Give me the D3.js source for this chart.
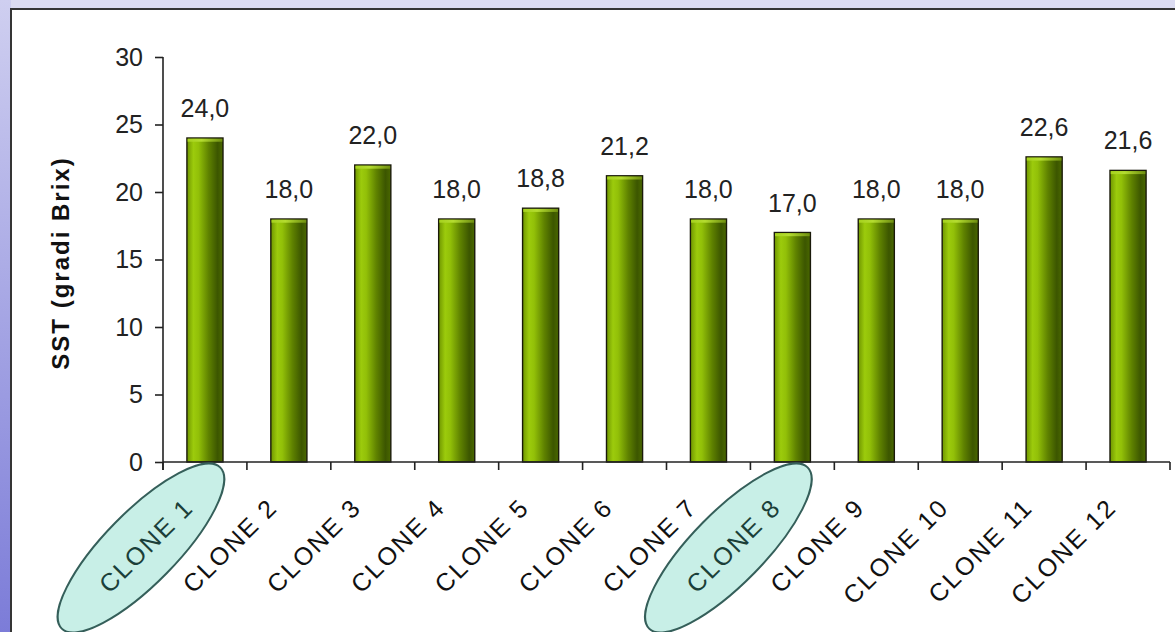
<!DOCTYPE html>
<html>
<head>
<meta charset="utf-8">
<script src="https://cdn.jsdelivr.net/npm/d3@7"></script>
<style>
  html, body { margin: 0; padding: 0; background: #dcdcf2; }
  svg { display: block; }
  text { font-family: Arial, "Liberation Sans", sans-serif; }
</style>
</head>
<body>
<svg id="chart" width="1175" height="632"></svg>
<script>
// Soluble solids (°Brix) per clone
const categories = ["CLONE 1", "CLONE 2", "CLONE 3", "CLONE 4", "CLONE 5", "CLONE 6",
                    "CLONE 7", "CLONE 8", "CLONE 9", "CLONE 10", "CLONE 11", "CLONE 12"];
const values = [24.0, 18.0, 22.0, 18.0, 18.8, 21.2, 18.0, 17.0, 18.0, 18.0, 22.6, 21.6];
const highlighted = ["CLONE 1", "CLONE 8"];
const yTicks = [0, 5, 10, 15, 20, 25, 30];
const yTitle = "SST (gradi Brix)";

const svg = d3.select("#chart");
const W = 1175, H = 632;
const defs = svg.append("defs");

// page frame: lavender strip on the left, white panel with dark border
const side = defs.append("linearGradient").attr("id", "side")
  .attr("x1", 0).attr("y1", 0).attr("x2", 0).attr("y2", 1);
side.append("stop").attr("offset", "0%").attr("stop-color", "#cfcff0");
side.append("stop").attr("offset", "100%").attr("stop-color", "#7c7cd8");
svg.append("rect").attr("x", 0).attr("y", 0).attr("width", W).attr("height", H).attr("fill", "#dcdcf2");
svg.append("rect").attr("x", 0).attr("y", 0).attr("width", 11).attr("height", H).attr("fill", "url(#side)");
svg.append("rect").attr("x", 11).attr("y", 9).attr("width", W + 20).attr("height", H + 20)
  .attr("fill", "#ffffff").attr("stroke", "#353535").attr("stroke-width", 2);

// bar shading
const barGrad = defs.append("linearGradient").attr("id", "barGrad")
  .attr("x1", 0).attr("y1", 0).attr("x2", 1).attr("y2", 0);
[["0%", "#6f9600"], ["18%", "#9ccb0c"], ["32%", "#92c008"], ["60%", "#5f8200"],
 ["85%", "#3c5600"], ["100%", "#4a6800"]].forEach(([o, c]) =>
  barGrad.append("stop").attr("offset", o).attr("stop-color", c));
const capGrad = defs.append("linearGradient").attr("id", "capGrad")
  .attr("x1", 0).attr("y1", 0).attr("x2", 1).attr("y2", 0);
[["0%", "#a6d21e"], ["40%", "#b4dc30"], ["100%", "#6f8f10"]].forEach(([o, c]) =>
  capGrad.append("stop").attr("offset", o).attr("stop-color", c));

const m = { left: 163, right: 1170, top: 57, bottom: 462 };

const x = d3.scaleBand().domain(categories).range([m.left, m.right]).paddingInner(0.57).paddingOuter(0.285);
const xb = d3.scaleBand().domain(categories).range([m.left, m.right]);
const y = d3.scaleLinear().domain([0, 30]).range([m.bottom, m.top]);

// y axis
const yAxis = svg.append("g").attr("transform", `translate(${m.left},0)`)
  .call(d3.axisLeft(y).tickValues(yTicks).tickSize(8).tickPadding(12).tickFormat(d3.format("d")));
yAxis.select(".domain").attr("d", `M0,${m.top}V${m.bottom + 8}`);
yAxis.selectAll("line, path").attr("stroke", "#222").attr("stroke-width", 1.6);
yAxis.selectAll("text").attr("font-size", 25).attr("fill", "#222")
  .attr("font-family", "Arial, 'Liberation Sans', sans-serif");

// y title
svg.append("text")
  .attr("transform", `translate(69,263) rotate(-90)`)
  .attr("text-anchor", "middle")
  .attr("font-size", 24).attr("font-weight", "bold").attr("letter-spacing", 2)
  .attr("fill", "#111").text(yTitle);

// bars
const bars = svg.append("g");
bars.selectAll("rect.bar").data(categories).join("rect").attr("class", "bar")
  .attr("x", d => x(d))
  .attr("y", (d, i) => y(values[i]))
  .attr("width", x.bandwidth())
  .attr("height", (d, i) => y(0) - y(values[i]))
  .attr("fill", "url(#barGrad)")
  .attr("stroke", "#1a1a0a").attr("stroke-width", 1.4);
bars.selectAll("rect.cap").data(categories).join("rect").attr("class", "cap")
  .attr("x", d => x(d) + 0.7)
  .attr("y", (d, i) => y(values[i]) + 0.7)
  .attr("width", x.bandwidth() - 1.4)
  .attr("height", 3)
  .attr("fill", "url(#capGrad)");

// value labels
const fmt = v => d3.format(".1f")(v).replace(".", ",");
svg.append("g").selectAll("text").data(categories).join("text")
  .attr("x", d => x(d) + x.bandwidth() / 2)
  .attr("y", (d, i) => y(values[i]) - 21)
  .attr("text-anchor", "middle")
  .attr("font-size", 25).attr("fill", "#222")
  .text((d, i) => fmt(values[i]));

// x axis
const xAxis = svg.append("g").attr("transform", `translate(0,${m.bottom})`);
xAxis.append("line").attr("x1", m.left).attr("x2", m.right).attr("y1", 0).attr("y2", 0)
  .attr("stroke", "#222").attr("stroke-width", 1.6);
const bounds = categories.map(c => xb(c)).concat([m.right]);
xAxis.selectAll("line.tick").data(bounds).join("line").attr("class", "tick")
  .attr("x1", d => d).attr("x2", d => d).attr("y1", 0).attr("y2", 8)
  .attr("stroke", "#222").attr("stroke-width", 1.6);

// highlight ellipses behind selected labels
const labelG = svg.append("g");
labelG.selectAll("ellipse").data(highlighted).join("ellipse")
  .attr("transform", d => `translate(${xb(d) + xb.bandwidth() / 2 - 64},548) rotate(-45.5)`)
  .attr("rx", 113).attr("ry", 36)
  .attr("fill", "#c8efe7").attr("stroke", "#355f5a").attr("stroke-width", 2);

// category labels
labelG.selectAll("text").data(categories).join("text")
  .attr("transform", d => `translate(${xb(d) + xb.bandwidth() / 2 - 10},509) rotate(-45)`)
  .attr("text-anchor", "end")
  .attr("font-size", 25).attr("letter-spacing", 2)
  .attr("fill", d => highlighted.includes(d) ? "#1b3f39" : "#111")
  .text(d => d);
</script>
</body>
</html>
